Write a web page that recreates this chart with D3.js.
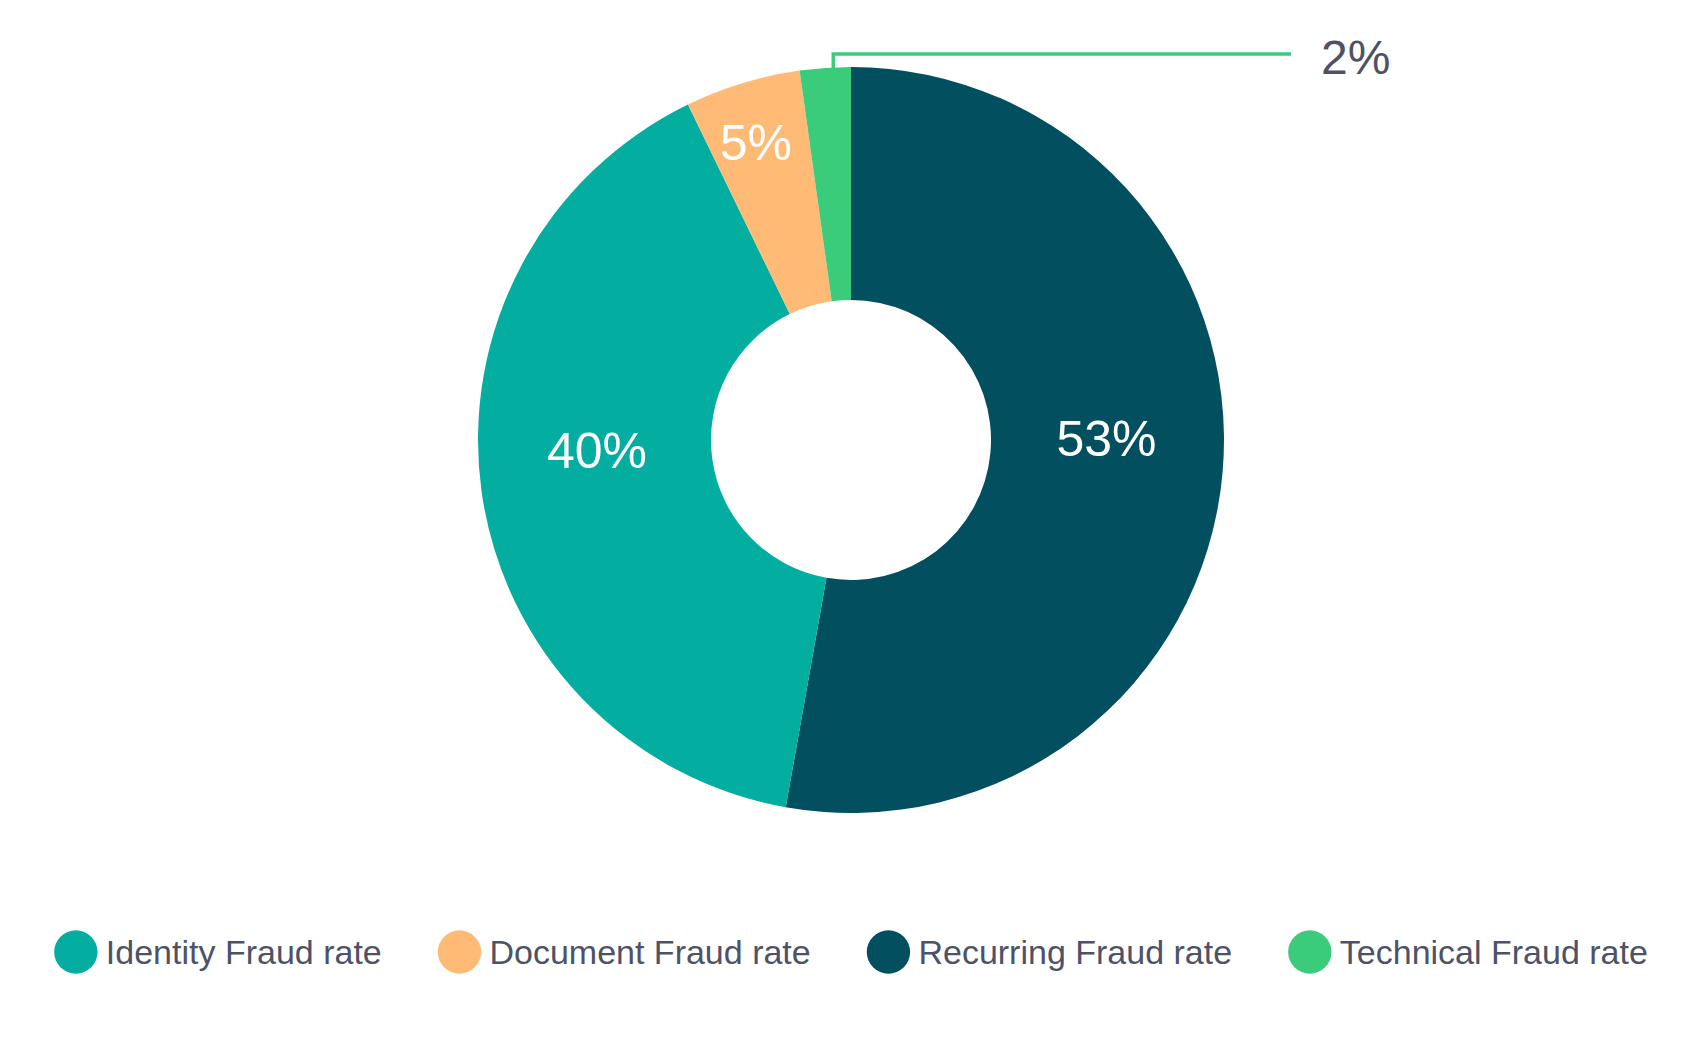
<!DOCTYPE html>
<html>
<head>
<meta charset="utf-8">
<script src="https://cdn.jsdelivr.net/npm/d3@7"></script>
<style>
  html, body { margin: 0; padding: 0; background: #fff; }
  svg { display: block; font-family: "Liberation Sans", Arial, sans-serif; }
</style>
</head>
<body>
<script>
// Slices in drawing order, clockwise from 12 o'clock
const sliceNames = ["Recurring Fraud rate", "Identity Fraud rate", "Document Fraud rate", "Technical Fraud rate"];
const sliceValues = [52.8, 40, 5, 2.2];
const sliceColors = ["#024f60", "#03aea1", "#ffbb76", "#3acc7a"];

// Legend order
const legendNames = ["Identity Fraud rate", "Document Fraud rate", "Recurring Fraud rate", "Technical Fraud rate"];

const width = 1701;
const height = 1047;
const cx = 851, cy = 440;
const outerR = 373, innerR = 140;
const textGray = "#4e5267";
const pct = v => d3.format(".0f")(v) + "%";

const svg = d3.select("body")
  .append("svg")
  .attr("width", width)
  .attr("height", height);

const data = sliceNames.map((name, i) => ({ name, value: sliceValues[i], color: sliceColors[i] }));

const pie = d3.pie()
  .value(d => d.value)
  .sort(null);

const arc = d3.arc()
  .innerRadius(innerR)
  .outerRadius(outerR);

const arcs = pie(data);

const g = svg.append("g")
  .attr("transform", `translate(${cx},${cy})`);

g.selectAll("path.slice")
  .data(arcs)
  .enter()
  .append("path")
  .attr("class", "slice")
  .attr("d", arc)
  .attr("fill", d => d.data.color);

// Labels inside the ring; tiny slices get an outside label with a leader
const smallArc = d3.arc().innerRadius(outerR - 60).outerRadius(outerR - 60);
const inside = arcs.filter(d => d.data.value >= 4);
const outside = arcs.filter(d => d.data.value < 4);

g.selectAll("text.inner")
  .data(inside)
  .enter()
  .append("text")
  .attr("class", "inner")
  .attr("x", d => d.data.value < 10 ? smallArc.centroid(d)[0] - 4 : arc.centroid(d)[0])
  .attr("y", d => d.data.value < 10 ? smallArc.centroid(d)[1] + 2 : arc.centroid(d)[1] - 24)
  .attr("text-anchor", "middle")
  .attr("dominant-baseline", "central")
  .attr("font-size", 50)
  .attr("fill", "#fff")
  .text(d => pct(d.data.value));

const leaderY = 54 - cy;
const leaderEndX = 1291 - cx;

outside.forEach(d => {
  const [lx] = arc.centroid(d);
  const edgeY = -Math.sqrt(outerR * outerR - lx * lx);
  g.append("path")
    .attr("d", `M${lx},${edgeY + 2}V${leaderY}H${leaderEndX}`)
    .attr("fill", "none")
    .attr("stroke", d.data.color)
    .attr("stroke-width", 3.5);
  g.append("text")
    .attr("x", leaderEndX + 30)
    .attr("y", leaderY + 3)
    .attr("dominant-baseline", "central")
    .attr("font-size", 48)
    .attr("fill", textGray)
    .text(pct(d.data.value));
});

// Legend, centred under the ring
const legendY = 952;
const dotR = 21.7;
const textGap = 30;
const itemGap = 56;
const colorOf = name => sliceColors[sliceNames.indexOf(name)];

const legend = svg.append("g");
const items = legend.selectAll("g.item")
  .data(legendNames)
  .enter()
  .append("g")
  .attr("class", "item");

items.append("circle")
  .attr("r", dotR)
  .attr("fill", d => colorOf(d));

items.append("text")
  .attr("x", textGap)
  .attr("dominant-baseline", "central")
  .attr("font-size", 34)
  .attr("fill", textGray)
  .text(d => d);

let xPos = 0;
let lastEnd = 0;
const offsets = [];
items.each(function () {
  const w = d3.select(this).select("text").node().getComputedTextLength();
  offsets.push(xPos);
  lastEnd = xPos + textGap + w;
  xPos = lastEnd + itemGap + dotR;
});
const startX = cx - (lastEnd - dotR) / 2;
items.attr("transform", (d, i) => `translate(${startX + offsets[i]},${legendY})`);
</script>
</body>
</html>
